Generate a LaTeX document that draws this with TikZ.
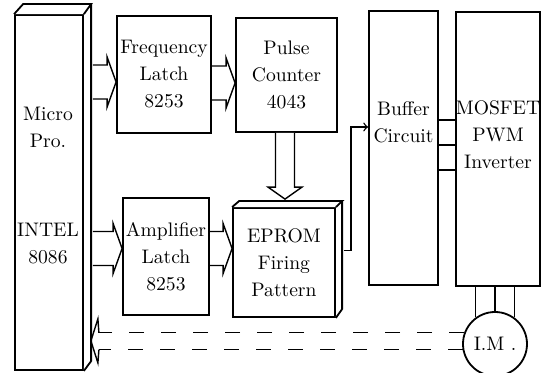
\documentclass[tikz,border=0pt]{standalone}
\usepackage{tikz}
\usetikzlibrary{
  calc,%
  positioning
}
\tikzset{>=to}
\tikzset{
  block/.style={draw, fill=white, line width=0.9pt, inner sep=0pt},
  blocktext/.style={align=center, font=\fontsize{9.8}{13.5}\selectfont},
  wire/.style={line width=0.7pt},
  dashwire/.style={line width=0.7pt, dash pattern=on 7.5pt off 8.5pt},
}
% wide hollow arrow, shaft from the x of #1, tip at #2
\newcommand{\busR}[2]{%
  \draw[wire] ($(#1 |- #2)+(0,-17)$) -- ($(#2)+(-9,-17)$) -- ($(#2)+(-9,-25)$) -- (#2)
    -- ($(#2)+(-9,25)$) -- ($(#2)+(-9,17)$) -- ($(#1 |- #2)+(0,17)$);}

\begin{document}
\begin{tikzpicture}[x=0.5pt, y=-0.5pt]
  \useasboundingbox (0,0) rectangle (542,373);
  % blocks
  \node[block, minimum width=34pt, minimum height=177.5pt] (micro) at (49,192.5) {};
  \draw[block] (micro.north west) -- ++(9,-10) -- ++(68,0) coordinate (mtr)
    -- (micro.north east) (mtr) -- ++(0,357) -- (micro.south east); %
  \node[blocktext] (microtxt) at (48,127) {Micro\\Pro.};
  \node[blocktext] (inteltxt) at (48,244) {INTEL\\8086};
  \node[block, blocktext, minimum width=47pt, minimum height=58.5pt] (freq)
    at (164,74.5) {Frequency\\Latch\\8253};
  \node[block, blocktext, minimum width=50.5pt, minimum height=57pt] (pulse)
    at (286.5,75) {Pulse\\Counter\\4043};
  \node[block, blocktext, minimum width=43pt, minimum height=58.5pt] (amp)
    at (166,256.5) {Amplifier\\Latch\\8253};
  \node[block, blocktext, minimum width=51pt, minimum height=54.5pt] (eprom)
    at (284,262.5) {EPROM\\Firing\\Pattern};
  \draw[block] (eprom.north west) -- ++(7,-6) -- ++(103,0) coordinate (etr)
    -- (eprom.north east) (etr) -- ++(0,108) -- (eprom.south east); %
  \node[block, minimum width=34.5pt, minimum height=137pt] (buffer) at (403.5,148) {};
  \node[blocktext] (buffertxt) at (403.5,122) {Buffer\\Circuit};
  \node[block, minimum width=42pt, minimum height=137pt] (mosfet) at (498,149) {};
  \node[blocktext] (mosfettxt) at (498,135) {MOSFET\\PWM\\Inverter};
  \node[block, blocktext, circle, minimum size=32pt] (im) at (495,344) {I.M .};
  % bus arrows
  \coordinate (microside) at ($(micro.east)+(9,0)$);
  \coordinate (fqin) at ($(freq.west)+(0,7.5)$);
  \coordinate (pcin) at ($(pulse.west)+(0,8)$);
  \coordinate (ampin) at ($(amp.west)+(0,-8)$);
  \coordinate (epin) at ($(eprom.west)+(0,-14)$);
  \busR{microside}{fqin}
  \busR{freq.east}{pcin}
  \busR{microside}{ampin}
  \busR{amp.east}{epin}
  \coordinate (eptop) at ($(eprom.north)+(1,-8)$);
  \draw[wire, fill=white] ($(eptop |- pulse.south)+(-9.5,0)$) -- ($(eptop)+(-9.5,-12)$)
    -- ($(eptop)+(-17,-12)$) -- (eptop) -- ($(eptop)+(17,-12)$)
    -- ($(eptop)+(9.5,-12)$) -- ($(eptop |- pulse.south)+(9.5,0)$); %
  % eprom to buffer
  \draw[wire, ->] ($(eprom.east)+(8,-12)$) -- ++(7,0) |- ($(buffer.west)+(0,-21)$); %
  % buffer to inverter
  \foreach \dy in {-28,-3,22}
    \draw[wire] ($(buffer.east)+(0,\dy)$) coordinate (bo) -- (bo -| mosfet.west);
  % inverter to motor
  \foreach \a in {54,90,126}
    \draw[wire] (im.\a) -- (im.\a |- mosfet.south);
  % feedback
  \coordinate (mpin) at ($(micro.south east)+(7,-30)$);
  \draw[dashwire] (im.160) -- ($(im.160 -| mpin)+(8,0)$);
  \draw[dashwire] (im.190) -- ($(im.190 -| mpin)+(8,0)$);
  \draw[wire] ($(im.160 -| mpin)+(8,0)$) -- ($(mpin)+(7,-22)$) -- (mpin)
    -- ($(mpin)+(7,22)$) -- ($(im.190 -| mpin)+(8,0)$); %
\end{tikzpicture}
\end{document}
